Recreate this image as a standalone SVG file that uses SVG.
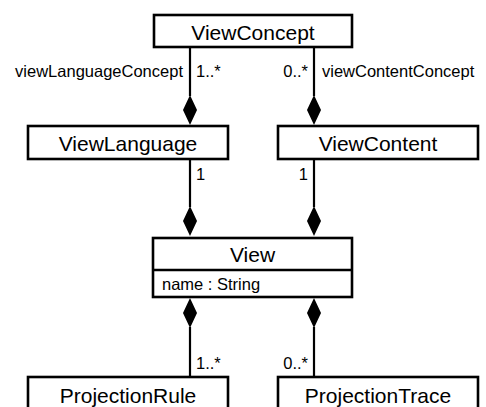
<svg xmlns="http://www.w3.org/2000/svg" width="486" height="407" viewBox="0 0 486 407">
<style>
.box{fill:#fff;stroke:#000;stroke-width:2.6}
.t{font-family:"Liberation Sans",Arial,sans-serif;font-size:21px;fill:#000;text-anchor:middle}
.s{font-family:"Liberation Sans",Arial,sans-serif;font-size:16.5px;fill:#000}
.ln{stroke:#000;stroke-width:2.2;fill:none}
.dm{fill:#000;stroke:none}
</style>
<rect width="486" height="407" fill="#fff"/>
<g id="connectors">
<line class="ln" x1="190" y1="47" x2="190" y2="96"/>
<polygon class="dm" points="190,95 197,110 190,125 183,110"/>
<line class="ln" x1="314" y1="47" x2="314" y2="96"/>
<polygon class="dm" points="314,95 321,110 314,125 307,110"/>
<line class="ln" x1="190" y1="159" x2="190" y2="207"/>
<polygon class="dm" points="190,206 197,221 190,236 183,221"/>
<line class="ln" x1="314" y1="159" x2="314" y2="207"/>
<polygon class="dm" points="314,206 321,221 314,236 307,221"/>
<polygon class="dm" points="190,298 197,313 190,328 183,313"/>
<line class="ln" x1="190" y1="327" x2="190" y2="377"/>
<polygon class="dm" points="314,298 321,313 314,328 307,313"/>
<line class="ln" x1="314" y1="327" x2="314" y2="377"/>
<text class="s" x="183" y="77" text-anchor="end">viewLanguageConcept</text>
<text class="s" x="196" y="77">1..*</text>
<text class="s" x="308" y="77" text-anchor="end">0..*</text>
<text class="s" x="322" y="77">viewContentConcept</text>
<text class="s" x="196" y="180">1</text>
<text class="s" x="308" y="180" text-anchor="end">1</text>
<text class="s" x="196" y="369">1..*</text>
<text class="s" x="308" y="369" text-anchor="end">0..*</text>
</g>
<g id="ViewConcept">
<rect class="box" x="154" y="15" width="198" height="32"/>
<text class="t" x="253" y="40">ViewConcept</text>
</g>
<g id="ViewLanguage">
<rect class="box" x="28" y="126" width="200" height="33"/>
<text class="t" x="128" y="151">ViewLanguage</text>
</g>
<g id="ViewContent">
<rect class="box" x="278" y="126" width="200" height="33"/>
<text class="t" x="378" y="151">ViewContent</text>
</g>
<g id="View">
<rect class="box" x="153" y="238" width="199" height="59"/>
<line class="ln" x1="153" y1="270" x2="352" y2="270" style="stroke-width:2.6"/>
<text class="t" x="252.5" y="262">View</text>
<text class="s" x="162" y="290">name : String</text>
</g>
<g id="ProjectionRule">
<rect class="box" x="28" y="377" width="200" height="40"/>
<text class="t" x="128" y="403">ProjectionRule</text>
</g>
<g id="ProjectionTrace">
<rect class="box" x="278" y="377" width="200" height="40"/>
<text class="t" x="378" y="403">ProjectionTrace</text>
</g>
</svg>
